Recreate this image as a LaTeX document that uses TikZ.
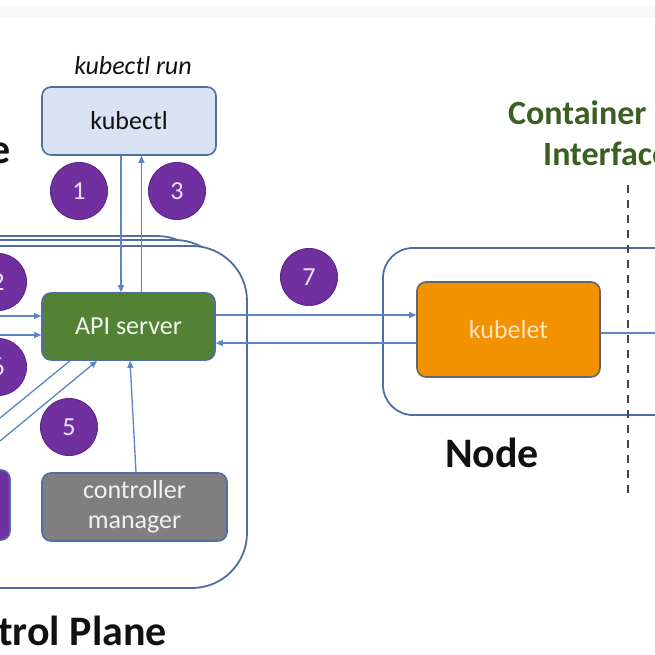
\documentclass[tikz,border=0pt]{standalone}
\usepackage{fontspec}
\setmainfont{Carlito}
\usetikzlibrary{arrows.meta}
\definecolor{figink}{HTML}{111111}
\definecolor{figline}{HTML}{5B84C9}
\definecolor{figframe}{HTML}{4F6FA3}
\definecolor{figpurple}{HTML}{7030A0}
\definecolor{figlilac}{HTML}{EDE3F7}
\definecolor{figgreen}{HTML}{548235}
\definecolor{figolive}{HTML}{3B5E23}
\definecolor{figorange}{HTML}{F39200}
\definecolor{figgray}{HTML}{7F7F7F}
\definecolor{figsky}{HTML}{DAE3F3}
\definecolor{figband}{HTML}{F8F8F8}
\definecolor{figdash}{HTML}{454545}

\begin{document}
\begin{tikzpicture}[
  x=1pt,y=-1pt,
  line join=round,
  >={Triangle[length=7pt,width=6pt]},
  box/.style={draw=figframe,line width=1.6pt,rounded corners=9pt,
    inner sep=0pt,align=center,font=\fontsize{26}{30}\selectfont},
  num/.style={circle,fill=figpurple,draw=figpurple!85!black,line width=1pt,
    minimum size=57pt,inner sep=0pt,text=figlilac,
    font=\fontsize{26}{30}\selectfont},
  plane/.style={draw=figframe,line width=1.8pt,fill=white,rounded corners=55pt},
  link/.style={draw=figline,line width=1.3pt},
  title/.style={inner sep=0pt,text=figink,font=\bfseries\fontsize{42}{48}\selectfont}
]
\useasboundingbox (0,0) rectangle (655,655);
\clip (0,0) rectangle (655,655);
\fill[white] (0,0) rectangle (655,655);
\fill[figband] (0,5) rectangle (655,18);

% Control plane drawn as a stack of three frames; Node frame to the right.
\draw[plane] (-80,236) rectangle (212,578);
\draw[plane] (-75,240) rectangle (230,583);
\draw[plane] (-70,246) rectangle (247,588);
\draw[plane,rounded corners=30pt] (383,248) rectangle (720,415);

\node[box,fill=figsky,minimum width=174pt,minimum height=68pt,text=figink]
  (kubectl) at (129,121) {kubectl};
\node[box,fill=figgreen,minimum width=173pt,minimum height=67pt,
  text=white!92!figgreen] (api) at (128.5,326.5) {API server};
\node[box,fill=figgray,minimum width=185pt,minimum height=68pt,
  text=white!90!figgray] (ctrl) at (134.5,507) {controller\\manager};
\node[box,fill=figpurple,minimum width=80pt,minimum height=70pt]
  (sched) at (-30,505) {};
\node[box,draw=figgray!80!black,fill=figorange,minimum width=183pt,
  minimum height=95pt,text=figorange!25!white] (kubelet) at (508.5,329.5) {kubelet};

\node[num] (n1) at (79,191) {1};
\node[num] (n3) at (177,191) {3};
\node[num] (n2) at (-2,282) {2};
\node[num] (n6) at (-2,367) {6};
\node[num] (n5) at (69,427) {5};
\node[num] (n7) at (309,277) {7};

\node[text=figink,font=\itshape\fontsize{26}{30}\selectfont]
  (run) at (133,66) {kubectl run};
\node[title,anchor=base east] (cut) at (11,164) {e};
\node[title,anchor=base east] (cplane) at (167,645) {Control Plane};
\node[title,anchor=base] (nodelbl) at (492,467) {Node};
\node[title,text=figolive,font=\bfseries\fontsize{34}{40}\selectfont,
  anchor=base west] (cri1) at (508,125) {Container};
\node[title,text=figolive,font=\bfseries\fontsize{34}{40}\selectfont,
  anchor=base west] (cri2) at (543,165) {Interface};

\coordinate (inA) at (0,316);
\coordinate (inB) at (0,335);
\coordinate (diagA) at (0,418);
\coordinate (diagB) at (0,441);
\coordinate (runtime) at (665,333);
\coordinate (criT) at (628,185);
\coordinate (criB) at (628,498);

\draw[link,->] ([xshift=-8pt]kubectl.south) -- ([xshift=-8pt]kubectl.south |- api.north);
\draw[link,->] ([xshift=13pt]api.north) -- ([xshift=13pt]api.north |- kubectl.south);
\draw[link,->] (inA) -- (inA -| api.west);
\draw[link,->] (inB) -- (inB -| api.west);
\draw[link] (diagA) -- ([xshift=-58.5pt]api.south);
\draw[link,->] (diagB) -- ([xshift=-31.5pt]api.south);
\draw[link,->] ([xshift=1.5pt]ctrl.north) -- ([xshift=1.5pt]api.south);
\draw[link,->] ([yshift=11.5pt]api.east) -- ([yshift=11.5pt]api.east -| kubelet.west);
\draw[link,->] ([yshift=-13.5pt]kubelet.west) -- ([yshift=-13.5pt]kubelet.west -| api.east);
\draw[link] ([yshift=-3.5pt]kubelet.east) -- (runtime);

\draw[figdash,line width=2.6pt,dash pattern=on 8pt off 7pt] (criT) -- (criB);
\end{tikzpicture}
\end{document}
